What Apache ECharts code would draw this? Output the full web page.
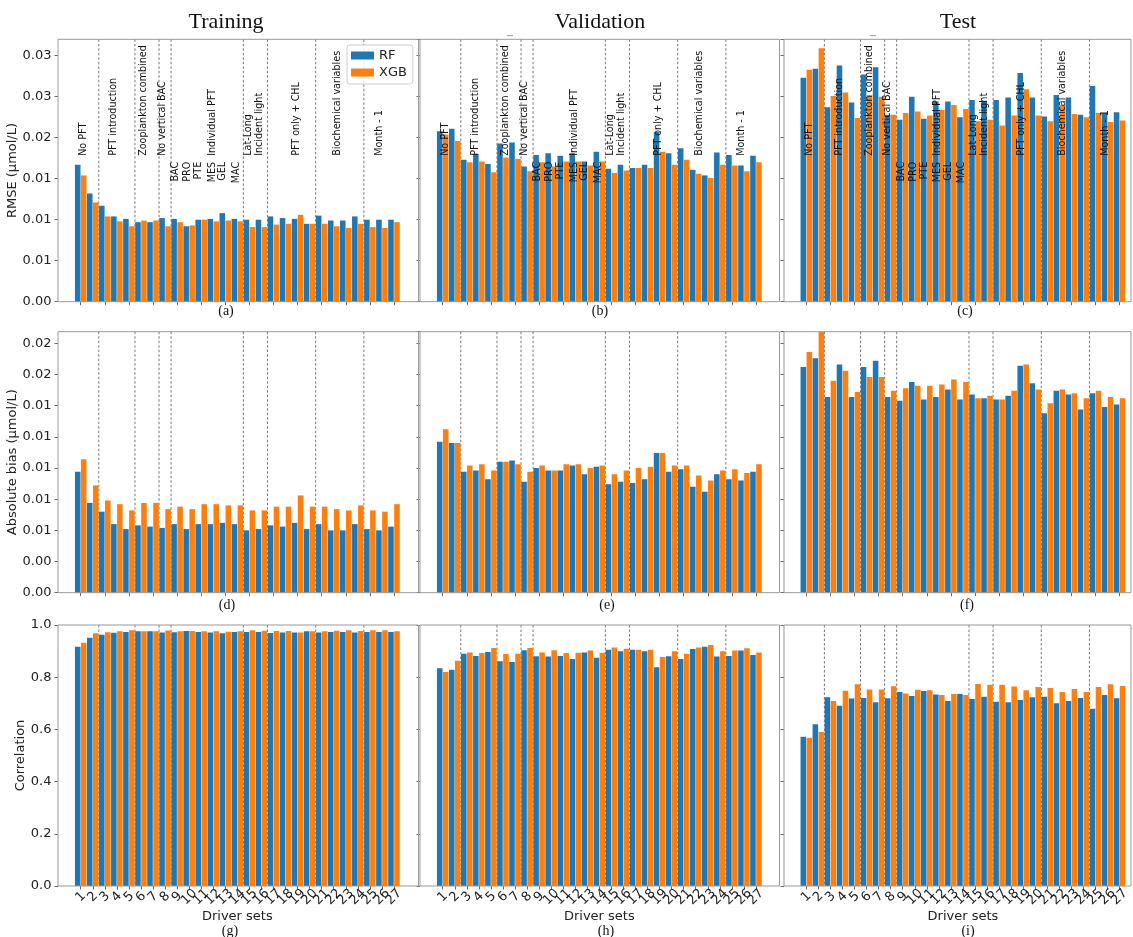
<!DOCTYPE html>
<html><head><meta charset="utf-8">
<script src="https://cdn.jsdelivr.net/npm/echarts@6/dist/echarts.min.js"></script>
<style>html,body{margin:0;padding:0;background:#fff}#c{width:1133px;height:937px}</style>
</head><body><div id="c"></div>
<script>
// ---------------- data ----------------
const driverSets = ['1','2','3','4','5','6','7','8','9','10','11','12','13','14','15','16','17','18','19','20','21','22','23','24','25','26','27'];
const seriesNames = ['RF', 'XGB'];
const columnTitles = ['Training', 'Validation', 'Test'];
const rowAxisNames = ['RMSE (\u03bcmol/L)', 'Absolute bias (\u03bcmol/L)', 'Correlation'];
const panelLetters = ['(a)','(b)','(c)','(d)','(e)','(f)','(g)','(h)','(i)'];

const rmseTrainRF  = [0.0167,0.0132,0.0117,0.0104,0.0101,0.0097,0.0097,0.0102,0.0101,0.0092,0.0100,0.0101,0.0108,0.0101,0.0100,0.0100,0.0104,0.0102,0.0101,0.0095,0.0105,0.0099,0.0099,0.0104,0.0100,0.0100,0.0100];
const rmseTrainXGB = [0.0154,0.0121,0.0104,0.0098,0.0092,0.0099,0.0099,0.0092,0.0097,0.0093,0.0100,0.0098,0.0099,0.0098,0.0091,0.0091,0.0094,0.0095,0.0106,0.0095,0.0095,0.0092,0.0090,0.0095,0.0091,0.0090,0.0097];
const rmseValRF    = [0.0208,0.0211,0.0173,0.0180,0.0168,0.0193,0.0194,0.0165,0.0179,0.0181,0.0178,0.0181,0.0171,0.0183,0.0162,0.0167,0.0163,0.0167,0.0207,0.0181,0.0187,0.0161,0.0154,0.0182,0.0179,0.0166,0.0178];
const rmseValXGB   = [0.0204,0.0196,0.0170,0.0171,0.0158,0.0176,0.0174,0.0159,0.0170,0.0165,0.0171,0.0171,0.0166,0.0171,0.0157,0.0160,0.0163,0.0163,0.0183,0.0167,0.0173,0.0156,0.0151,0.0167,0.0166,0.0159,0.0170];
const rmseTestRF   = [0.0273,0.0284,0.0237,0.0288,0.0243,0.0277,0.0286,0.0228,0.0222,0.0250,0.0223,0.0244,0.0244,0.0225,0.0246,0.0245,0.0246,0.0249,0.0279,0.0249,0.0226,0.0252,0.0249,0.0228,0.0263,0.0230,0.0231];
const rmseTestXGB  = [0.0283,0.0309,0.0251,0.0255,0.0224,0.0252,0.0250,0.0228,0.0230,0.0232,0.0227,0.0234,0.0240,0.0235,0.0220,0.0222,0.0215,0.0227,0.0259,0.0227,0.0220,0.0240,0.0229,0.0225,0.0230,0.0219,0.0221];

const absTrainRF   = [0.0097,0.0072,0.0065,0.0055,0.0051,0.0054,0.0053,0.0052,0.0055,0.0051,0.0055,0.0055,0.0056,0.0055,0.0050,0.0051,0.0054,0.0053,0.0056,0.0051,0.0055,0.0050,0.0050,0.0055,0.0051,0.0050,0.0053];
const absTrainXGB  = [0.0107,0.0086,0.0074,0.0071,0.0066,0.0072,0.0072,0.0067,0.0069,0.0067,0.0071,0.0071,0.0070,0.0070,0.0066,0.0066,0.0069,0.0069,0.0078,0.0069,0.0069,0.0067,0.0066,0.0070,0.0066,0.0065,0.0071];
const absValRF     = [0.0121,0.0120,0.0097,0.0098,0.0091,0.0105,0.0106,0.0089,0.0100,0.0098,0.0098,0.0102,0.0095,0.0101,0.0087,0.0089,0.0088,0.0091,0.0112,0.0097,0.0099,0.0085,0.0081,0.0095,0.0091,0.0090,0.0097];
const absValXGB    = [0.0131,0.0120,0.0102,0.0103,0.0098,0.0105,0.0103,0.0097,0.0102,0.0098,0.0103,0.0103,0.0100,0.0102,0.0095,0.0098,0.0100,0.0101,0.0112,0.0102,0.0102,0.0094,0.0090,0.0098,0.0099,0.0096,0.0103];
const absTestRF    = [0.0181,0.0188,0.0157,0.0183,0.0157,0.0181,0.0186,0.0157,0.0154,0.0169,0.0155,0.0157,0.0163,0.0155,0.0159,0.0156,0.0155,0.0158,0.0182,0.0168,0.0144,0.0162,0.0159,0.0147,0.0160,0.0149,0.0151];
const absTestXGB   = [0.0193,0.0209,0.0170,0.0178,0.0161,0.0173,0.0173,0.0162,0.0164,0.0166,0.0166,0.0167,0.0171,0.0169,0.0156,0.0158,0.0155,0.0162,0.0183,0.0163,0.0152,0.0163,0.0160,0.0156,0.0162,0.0157,0.0156];

const corrTrainRF  = [0.917,0.951,0.963,0.970,0.973,0.976,0.976,0.971,0.972,0.977,0.973,0.971,0.968,0.973,0.973,0.973,0.969,0.971,0.971,0.976,0.971,0.973,0.973,0.971,0.973,0.973,0.973];
const corrTrainXGB = [0.932,0.968,0.972,0.976,0.980,0.976,0.976,0.979,0.976,0.977,0.976,0.976,0.974,0.976,0.980,0.978,0.977,0.977,0.971,0.976,0.976,0.978,0.980,0.977,0.980,0.980,0.976];
const corrValRF    = [0.834,0.829,0.890,0.881,0.897,0.861,0.858,0.903,0.880,0.879,0.881,0.870,0.895,0.875,0.905,0.899,0.905,0.899,0.838,0.880,0.870,0.908,0.917,0.879,0.881,0.902,0.885];
const corrValXGB   = [0.820,0.863,0.895,0.893,0.912,0.889,0.890,0.912,0.895,0.903,0.893,0.894,0.902,0.894,0.914,0.909,0.905,0.905,0.877,0.899,0.890,0.914,0.923,0.899,0.902,0.911,0.895];
const corrTestRF   = [0.572,0.620,0.723,0.691,0.718,0.720,0.704,0.719,0.743,0.728,0.747,0.734,0.709,0.736,0.716,0.725,0.706,0.704,0.713,0.723,0.725,0.700,0.709,0.720,0.679,0.732,0.719];
const corrTestXGB  = [0.568,0.590,0.709,0.748,0.773,0.753,0.753,0.765,0.738,0.752,0.750,0.732,0.736,0.732,0.774,0.771,0.771,0.764,0.750,0.762,0.759,0.743,0.755,0.743,0.762,0.773,0.766];

// y-axis ranges per row
const rowYMax      = [0.0320, 0.02093, 1.0];
const rowYInterval = [0.005, 0.0025, 0.2];
const rowYDecimals = [2, 2, 1];

// section dividers: a dashed line after these driver sets
const dividerAfter = [2, 5, 7, 8, 14, 16, 20, 24];
// group annotations (row 1), positions in driver-set index units (0-based)
const sectionLabels   = ['No PFT','PFT introduction','Zooplankton combined','No vertical BAC','Individual PFT','Lat-Long','Incident light','PFT only + CHL','Biochemical variables','Month - 1'];
const sectionLabelPos = [0.27, 2.75, 5.25, 6.75, 10.9, 13.9, 14.8, 17.9, 21.3, 24.8];
const sectionLabelBase = 0.01779;
const pftLabels   = ['BAC','PRO','PTE','MES','GEL','MAC'];
const pftLabelPos = [7.9, 8.9, 9.8, 10.9, 11.8, 12.9];
const pftLabelTop = 0.01706;

// ---------------- layout ----------------
const colBarLeft = [74.7, 436.7, 800.3];
const barsWidth = 325.3;
const frameLeft  = [58, 420, 784];
const frameRight = [418.5, 779.5, 1131];
const rowTop    = [39.3, 331.7, 625];
const rowBottom = [301.7, 592.7, 886];
const yNameGap = [33.5, 31.5, 23.5];
const panelLabelPos = [[226,311.5],[600,311.5],[965,311.5],[227,605],[607,605],[967,605],[230,931],[606,931],[968,931]];
const titleX = [226, 600, 958];
const BLUE = '#1f77b4', ORANGE = '#ff7f0e';
const FONT = '"DejaVu Sans", sans-serif';
const SERIF = '"Liberation Serif", "Times New Roman", serif';

const panelData = [
  [rmseTrainRF, rmseTrainXGB], [rmseValRF, rmseValXGB], [rmseTestRF, rmseTestXGB],
  [absTrainRF, absTrainXGB],   [absValRF, absValXGB],   [absTestRF, absTestXGB],
  [corrTrainRF, corrTrainXGB], [corrValRF, corrValXGB], [corrTestRF, corrTestXGB]
];

const grids = [], xAxes = [], yAxes = [], series = [];
for (let r = 0; r < 3; r++) {
  for (let c = 0; c < 3; c++) {
    const g = r * 3 + c;
    grids.push({left: colBarLeft[c], width: barsWidth, top: rowTop[r], height: rowBottom[r] - rowTop[r], containLabel: false});
    const last = r === 2;
    xAxes.push({
      gridIndex: g, type: 'category', data: driverSets, boundaryGap: true,
      axisLine: {show: false},
      axisTick: {show: true, alignWithLabel: true, length: 3.5, lineStyle: {color: '#444', width: 0.8}},
      axisLabel: last ? {show: true, rotate: 45, interval: 0, fontSize: 13, fontFamily: FONT, color: '#222', margin: 11, align: 'center', verticalAlign: 'middle'} : {show: false},
      name: last ? 'Driver sets' : '', nameLocation: 'middle', nameGap: 19,
      nameTextStyle: {fontSize: 13, fontFamily: FONT, color: '#222'},
      splitLine: {show: false}
    });
    const dec = rowYDecimals[r];
    yAxes.push({
      gridIndex: g, type: 'value', min: 0, max: rowYMax[r], interval: rowYInterval[r],
      offset: colBarLeft[c] - frameLeft[c],
      axisLine: {show: false},
      axisTick: {show: true, length: 3.5, lineStyle: {color: '#444', width: 0.8}},
      axisLabel: c === 0 ? {show: true, showMaxLabel: r === 2, fontSize: 13, fontFamily: FONT, color: '#222', margin: 6.5,
        formatter: v => v.toFixed(dec)} : {show: false},
      splitLine: {show: false},
      name: c === 0 ? rowAxisNames[r] : '', nameLocation: 'middle', nameGap: yNameGap[r],
      nameTextStyle: {fontSize: 13, fontFamily: FONT, color: '#222'}
    });
    for (let s = 0; s < 2; s++) {
      series.push({
        type: 'bar', name: seriesNames[s], xAxisIndex: g, yAxisIndex: g,
        data: panelData[g][s],
        barCategoryGap: '4%', barGap: '8%',
        itemStyle: {color: s === 0 ? BLUE : ORANGE},
        emphasis: {disabled: true}, silent: true
      });
    }
  }
}

const option = {
  animation: false,
  backgroundColor: '#fff',
  grid: grids, xAxis: xAxes, yAxis: yAxes, series: series,
  legend: {
    data: seriesNames, orient: 'vertical', left: 347, top: 45,
    itemWidth: 23, itemHeight: 8, itemGap: 4, icon: 'rect',
    padding: [4, 6, 5, 4],
    borderColor: '#ccc', borderWidth: 1, borderRadius: 3,
    backgroundColor: 'rgba(255,255,255,0.85)',
    textStyle: {fontSize: 13, fontFamily: FONT, color: '#222', lineHeight: 13},
    selectedMode: false
  }
};

const chart = echarts.init(document.getElementById('c'), null, {renderer: 'canvas'});
chart.setOption(option);

// pixel position of a (possibly fractional) driver-set index and value, via the axes
function px(g, idx, v) {
  const a = chart.convertToPixel({gridIndex: g}, [0, v]);
  const b = chart.convertToPixel({gridIndex: g}, [driverSets.length - 1, v]);
  return [a[0] + (b[0] - a[0]) * idx / (driverSets.length - 1), a[1]];
}

const els = [];
for (let r = 0; r < 3; r++) {
  for (let c = 0; c < 3; c++) {
    const g = r * 3 + c;
    // frame
    els.push({type: 'rect', z: 10, silent: true,
      shape: {x: frameLeft[c], y: rowTop[r], width: frameRight[c] - frameLeft[c], height: rowBottom[r] - rowTop[r]},
      style: {fill: 'none', stroke: '#999', lineWidth: 1}});
    // dividers
    dividerAfter.forEach(d => {
      const x = px(g, d - 0.5, 0)[0];
      els.push({type: 'line', z: 0, silent: true,
        shape: {x1: x, y1: rowTop[r], x2: x, y2: rowBottom[r]},
        style: {stroke: '#555', lineWidth: 0.8, lineDash: [2.5, 2]}});
    });
    // panel letters
    const pl = panelLabelPos[g];
    els.push({type: 'text', z: 10, silent: true, x: pl[0], y: pl[1],
      style: {text: panelLetters[g], font: '14px ' + SERIF, fill: '#111', align: 'center', verticalAlign: 'middle', textAlign: 'center', textVerticalAlign: 'middle'}});
    if (r === 0) {
      sectionLabels.forEach((t, i) => {
        const p = px(g, sectionLabelPos[i], sectionLabelBase);
        els.push({type: 'text', z: 10, silent: true, x: p[0], y: p[1], rotation: Math.PI / 2,
          style: {text: t, font: '9.6px ' + FONT, fill: '#111', align: 'left', verticalAlign: 'middle', textAlign: 'left', textVerticalAlign: 'middle'}});
      });
      pftLabels.forEach((t, i) => {
        const p = px(g, pftLabelPos[i], pftLabelTop);
        els.push({type: 'text', z: 10, silent: true, x: p[0], y: p[1], rotation: Math.PI / 2,
          style: {text: t, font: '9.6px ' + FONT, fill: '#111', align: 'right', verticalAlign: 'middle', textAlign: 'right', textVerticalAlign: 'middle'}});
      });
    }
  }
}
// column titles
columnTitles.forEach((t, c) => {
  els.push({type: 'text', z: 10, silent: true, x: titleX[c], y: 22,
    style: {text: t, font: '22px ' + SERIF, fill: '#111', align: 'center', verticalAlign: 'middle', textAlign: 'center', textVerticalAlign: 'middle'}});
});
// small stray marks near the validation / test titles
[[507, 35], [870, 35]].forEach(p => {
  els.push({type: 'rect', z: 10, silent: true, shape: {x: p[0], y: p[1], width: 6, height: 1.2}, style: {fill: '#aaa'}});
});

chart.setOption({graphic: {elements: els}});
</script>
</body></html>
